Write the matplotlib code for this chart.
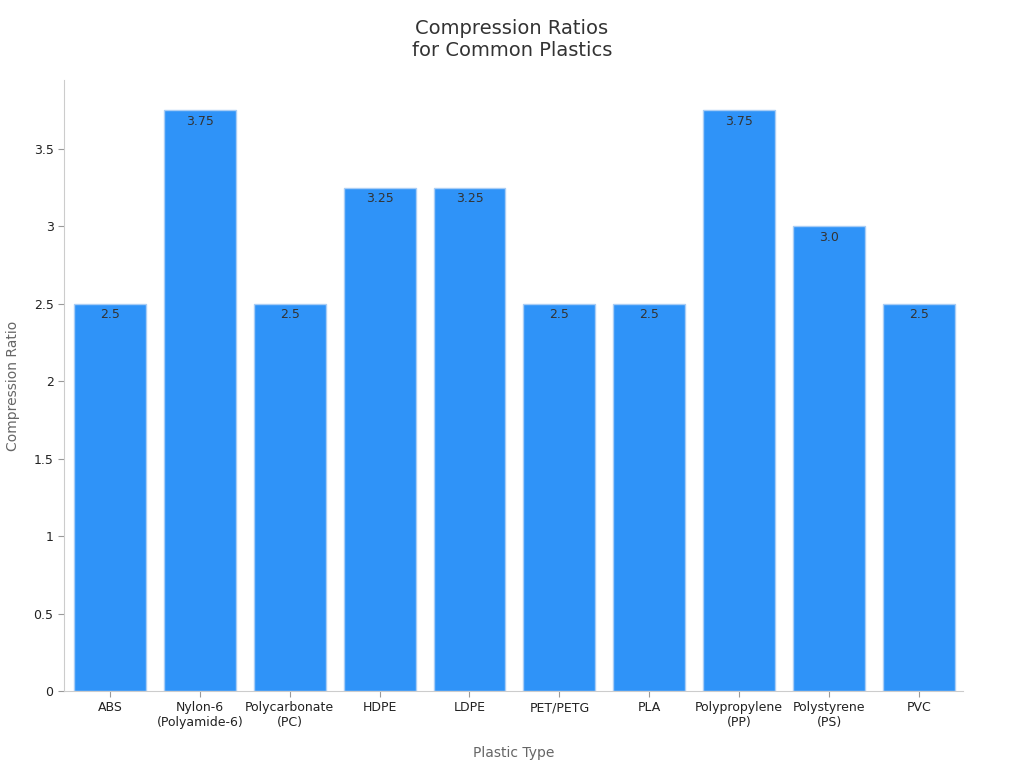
import matplotlib
matplotlib.use("Agg")
import matplotlib.pyplot as plt

plastics = ["ABS", "Nylon-6\n(Polyamide-6)", "Polycarbonate\n(PC)", "HDPE", "LDPE",
            "PET/PETG", "PLA", "Polypropylene\n(PP)", "Polystyrene\n(PS)", "PVC"]
ratios = [2.5, 3.75, 2.5, 3.25, 3.25, 2.5, 2.5, 3.75, 3.0, 2.5]
value_labels = ["2.5", "3.75", "2.5", "3.25", "3.25", "2.5", "2.5", "3.75", "3.0", "2.5"]
y_ticks = [0, 0.5, 1, 1.5, 2, 2.5, 3, 3.5]
y_tick_labels = ["0", "0.5", "1", "1.5", "2", "2.5", "3", "3.5"]

fig = plt.figure(figsize=(10.24, 7.68), dpi=100)
ax = fig.add_axes([0.0625, 0.1003, 0.878, 0.7956])

x = list(range(len(plastics)))
bars = ax.bar(x, ratios, width=0.8, color="#2f93f8", edgecolor="#a9cdf5", linewidth=1)
for b, lab in zip(bars, value_labels):
    ax.text(b.get_x() + b.get_width() / 2, b.get_height() - 0.03, lab,
            ha="center", va="top", fontsize=9, color="#333333")

ax.set_xlim(-0.51, 9.49)
ax.set_ylim(0, 3.945)
ax.set_xticks(x)
ax.set_xticklabels(plastics, fontsize=9, color="#222222")
ax.set_yticks(y_ticks)
ax.set_yticklabels(y_tick_labels, fontsize=9, color="#222222")
ax.tick_params(colors="#999999", labelcolor="#222222", length=4)
for s in ["top", "right"]:
    ax.spines[s].set_visible(False)
for s in ["left", "bottom"]:
    ax.spines[s].set_color("#cccccc")

ax.set_xlabel("Plastic Type", fontsize=10, color="#666666", labelpad=12)
ax.set_ylabel("Compression Ratio", fontsize=10, color="#666666", labelpad=10)
fig.suptitle("Compression Ratios\nfor Common Plastics", fontsize=14, color="#333333", y=0.975)

fig.savefig("out.png", dpi=100)
